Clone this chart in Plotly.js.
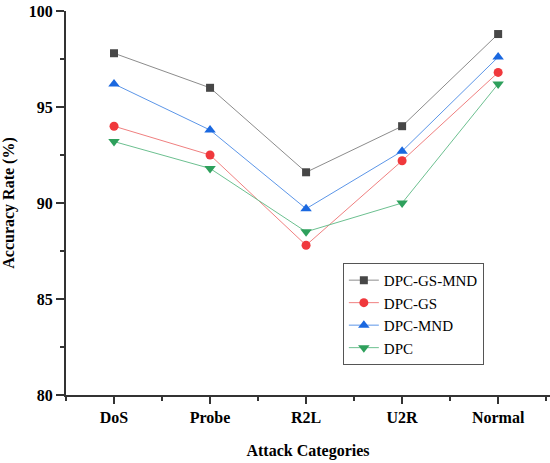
<!DOCTYPE html>
<html>
<head>
<meta charset="utf-8">
<script src="https://cdn.plot.ly/plotly-3.0.1.min.js"></script>
<style>html,body{margin:0;padding:0;background:#fff;}#chart{width:550px;height:463px;}</style>
</head>
<body>
<div id="chart"></div>
<script>
const categories = ["DoS", "Probe", "R2L", "U2R", "Normal"];
const seriesNames = ["DPC-GS-MND", "DPC-GS", "DPC-MND", "DPC"];
const dpcGsMnd = [97.8, 96.0, 91.6, 94.0, 98.8];
const dpcGs = [94.0, 92.5, 87.8, 92.2, 96.8];
const dpcMnd = [96.2, 93.8, 89.7, 92.7, 97.6];
const dpc = [93.2, 91.8, 88.5, 90.0, 96.2];
const yTicks = [80, 85, 90, 95, 100];

const idx = categories.map((c, i) => i);
const serif = 'Liberation Serif';

const styles = [
  {symbol: 'square', size: 8, mcolor: '#474747', lcolor: '#8c8c8c'},
  {symbol: 'circle', size: 9, mcolor: '#f0383c', lcolor: '#f08080'},
  {symbol: 'triangle-up', size: 10, mcolor: '#1a68e0', lcolor: '#5c96e8'},
  {symbol: 'triangle-down', size: 10, mcolor: '#2ea05c', lcolor: '#6cc090'}
];
const values = [dpcGsMnd, dpcGs, dpcMnd, dpc];

const traces = values.map((v, k) => ({
  x: idx, y: v, name: seriesNames[k], type: 'scatter', mode: 'lines+markers',
  line: {color: styles[k].lcolor, width: 1},
  marker: {symbol: styles[k].symbol, size: styles[k].size, color: styles[k].mcolor}
}));

const layout = {
  width: 550, height: 463,
  margin: {l: 66, r: 0, t: 11, b: 68},
  paper_bgcolor: '#fff', plot_bgcolor: '#fff',
  font: {family: serif, color: '#000', size: 16},
  showlegend: true,
  legend: {
    x: 0.572, y: 0.344, xanchor: 'left', yanchor: 'top',
    bordercolor: '#555', borderwidth: 1, bgcolor: '#fff',
    font: {family: serif, size: 15, color: '#000'},
    tracegroupgap: 0
  },
  xaxis: {
    range: [-0.5, 4.54],
    tickmode: 'array', tickvals: idx, ticktext: categories.map(c => '<b>' + c + '</b>'),
    ticks: 'outside', ticklen: 7, tickwidth: 1.5, tickcolor: '#333',
    minor: {tickmode: 'linear', tick0: 0.5, dtick: 1, ticks: 'outside', ticklen: 4, tickwidth: 1.5, tickcolor: '#333'},
    showline: true, linecolor: '#333', linewidth: 2,
    showgrid: false, zeroline: false,
    tickfont: {family: serif, size: 16, color: '#000'},
    title: {text: '<b>Attack Categories</b>', font: {family: serif, size: 16, color: '#000'}, standoff: 20}
  },
  yaxis: {
    range: [80, 100],
    automargin: true,
    tickmode: 'array', tickvals: yTicks, ticktext: yTicks.map(v => '<b>' + v + '</b>'),
    ticks: 'outside', ticklen: 8, tickwidth: 1.5, tickcolor: '#333',
    minor: {tickmode: 'linear', tick0: 82.5, dtick: 5, ticks: 'outside', ticklen: 4, tickwidth: 1.5, tickcolor: '#333'},
    showline: true, linecolor: '#333', linewidth: 2,
    showgrid: false, zeroline: false,
    tickfont: {family: serif, size: 16, color: '#000'},
    title: {text: '<b>Accuracy Rate (%)</b>', font: {family: serif, size: 16, color: '#000'}, standoff: 12}
  }
};

Plotly.newPlot('chart', traces, layout, {displayModeBar: false, staticPlot: true});
</script>
</body>
</html>
